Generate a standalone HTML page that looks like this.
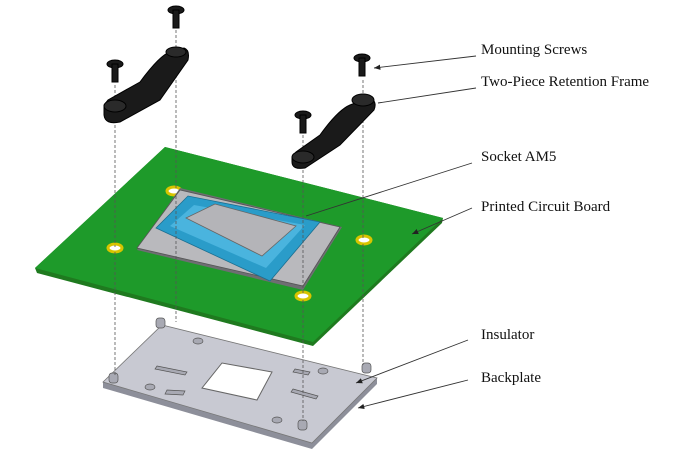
<!DOCTYPE html>
<html><head><style>
html,body{margin:0;padding:0;background:#fff;}
svg{display:block;}
text{font-family:"Liberation Serif",serif;font-size:15px;fill:#111;}
</style></head><body>
<svg width="700" height="458" viewBox="0 0 700 458" xmlns="http://www.w3.org/2000/svg">
<defs>
<marker id="ar" markerWidth="8" markerHeight="8" refX="7" refY="4" orient="auto"><path d="M0,1 L7,4 L0,7 Z" fill="#222"/></marker>
</defs>
<polygon points="103,382 162,325 377,378 377,384 312,449 103,388" fill="#8d8f9a"/>
<polygon points="103,382 162,325 377,378 312,443" fill="#c8c9d2" stroke="#777" stroke-width="0.8"/>
<polygon points="202,388 222,363 272,372 257,400" fill="#fff" stroke="#666"/>
<g fill="#a8a9b3" stroke="#555" stroke-width="0.7">
<rect x="156" y="318" width="9" height="10" rx="3"/>
<rect x="109" y="373" width="9" height="10" rx="3"/>
<rect x="362" y="363" width="9" height="10" rx="3"/>
<rect x="298" y="420" width="9" height="10" rx="3"/>
<ellipse cx="198" cy="341" rx="5" ry="3"/><ellipse cx="150" cy="387" rx="5" ry="3"/>
<ellipse cx="323" cy="371" rx="5" ry="3"/><ellipse cx="277" cy="420" rx="5" ry="3"/>
<polygon points="157,366 187,372 185,375 155,369"/><polygon points="167,390 185,391 183,395 165,394"/>
<polygon points="295,369 310,372 308,375 293,372"/><polygon points="293,389 318,396 316,399 291,392"/>
</g>
<polygon points="35,268 165,147 443,218 442,223 313,346 37,273" fill="#1f7a1f"/>
<polygon points="35,268 165,147 443,218 313,342" fill="#1e9a2a"/>
<g fill="#fff" stroke="#d8c400" stroke-width="3">
<ellipse cx="174" cy="191" rx="7" ry="4"/><ellipse cx="115" cy="248" rx="7" ry="4"/>
<ellipse cx="364" cy="240" rx="7" ry="4"/><ellipse cx="303" cy="296" rx="7" ry="4"/>
</g>
<polygon points="137,250 180,188 342,227 303,290" fill="#6e6e72"/>
<polygon points="137,248 180,190 340,227 303,286" fill="#b9b9bd" stroke="#555" stroke-width="0.8"/>
<polygon points="156,228 188,196 320,222 270,281" fill="#2a9cc9" stroke="#1a6f91" stroke-width="0.8"/>
<polygon points="170,226 194,205 305,225 266,268" fill="#4ab4de"/>
<polygon points="186,218 215,204 296,226 262,256" fill="#b4b4b8" stroke="#666" stroke-width="0.8"/>
<g stroke="#555" stroke-width="0.8" stroke-dasharray="3,2">
<line x1="176" y1="30" x2="176" y2="190"/><line x1="176" y1="196" x2="176" y2="322"/>
<line x1="115" y1="85" x2="115" y2="247"/><line x1="115" y1="252" x2="115" y2="375"/>
<line x1="363" y1="80" x2="363" y2="239"/><line x1="363" y1="244" x2="363" y2="365"/>
<line x1="303" y1="135" x2="303" y2="295"/><line x1="303" y1="300" x2="303" y2="421"/>
</g>
<g fill="#1a1a1a" stroke="#000">
<path d="M104,105 L108,100 L140,82 Q160,55 170,52 L184,48 Q190,50 188,60 L160,100 L120,122 Q105,125 104,115 Z"/>
<ellipse cx="115" cy="106" rx="11" ry="6" fill="#2a2a2a"/>
<ellipse cx="176" cy="52" rx="10" ry="5" fill="#2a2a2a"/>
<path d="M292,157 L296,152 L320,135 Q338,110 350,105 L368,98 Q378,100 374,110 L340,145 L305,168 Q292,170 292,162 Z"/>
<ellipse cx="303" cy="157" rx="11" ry="6" fill="#2a2a2a"/>
<ellipse cx="363" cy="100" rx="11" ry="6" fill="#2a2a2a"/>
<ellipse cx="176" cy="10" rx="8" ry="4"/><rect x="173" y="10" width="6" height="18"/>
<ellipse cx="115" cy="64" rx="8" ry="4"/><rect x="112" y="64" width="6" height="18"/>
<ellipse cx="362" cy="58" rx="8" ry="4"/><rect x="359" y="58" width="6" height="18"/>
<ellipse cx="303" cy="115" rx="8" ry="4"/><rect x="300" y="115" width="6" height="18"/>
</g>
<g stroke="#333" stroke-width="0.9" fill="none">
<line x1="476" y1="56" x2="374" y2="68" marker-end="url(#ar)"/>
<line x1="476" y1="88" x2="378" y2="103"/>
<line x1="472" y1="163" x2="306" y2="216"/>
<line x1="472" y1="208" x2="412" y2="234" marker-end="url(#ar)"/>
<line x1="468" y1="340" x2="356" y2="383" marker-end="url(#ar)"/>
<line x1="468" y1="380" x2="358" y2="408" marker-end="url(#ar)"/>
</g>
<text x="481" y="54">Mounting Screws</text>
<text x="481" y="86">Two-Piece Retention Frame</text>
<text x="481" y="161">Socket AM5</text>
<text x="481" y="211">Printed Circuit Board</text>
<text x="481" y="339">Insulator</text>
<text x="481" y="382">Backplate</text>
</svg>
</body></html>
